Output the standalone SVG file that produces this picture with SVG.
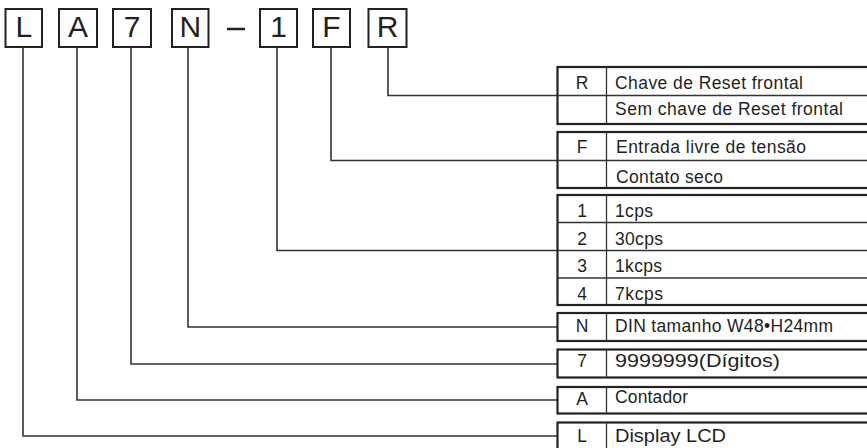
<svg xmlns="http://www.w3.org/2000/svg" width="867" height="448" viewBox="0 0 867 448">
<style>
.box{fill:#fff;stroke:#222;stroke-width:2}
.big{font-family:"Liberation Sans",Arial,sans-serif;font-size:30px;fill:#231f20;text-anchor:middle}
.tb{fill:#fff;stroke:#222;stroke-width:2.2}
.dv{stroke:#333;stroke-width:1.3;fill:none}
.t{font-family:"Liberation Sans",Arial,sans-serif;font-size:17.5px;fill:#231f20}
.c{text-anchor:middle}
.con{fill:none;stroke:#333;stroke-width:1.6}
</style>
<rect width="867" height="448" fill="#fff"/>
<g id="code">
<g id="box-L"><rect class="box" x="5.5" y="9" width="36.5" height="38"/><text class="big" x="23.75" y="37">L</text></g>
<g id="box-A"><rect class="box" x="59" y="9" width="38" height="38"/><text class="big" x="78" y="37">A</text></g>
<g id="box-7"><rect class="box" x="113" y="9" width="38" height="38"/><text class="big" x="132" y="37">7</text></g>
<g id="box-N"><rect class="box" x="172" y="9" width="36.5" height="38"/><text class="big" x="190.25" y="37">N</text></g>
<line x1="227" y1="29" x2="245" y2="29" stroke="#222" stroke-width="2.5"/>
<g id="box-1"><rect class="box" x="260" y="9" width="37" height="38"/><text class="big" x="278.5" y="37">1</text></g>
<g id="box-F"><rect class="box" x="313" y="9" width="37" height="38"/><text class="big" x="331.5" y="37">F</text></g>
<g id="box-R"><rect class="box" x="368.5" y="9" width="38" height="38"/><text class="big" x="387.5" y="37">R</text></g>
</g>
<g id="connectors">
<path class="con" d="M388 47V95.5H557"/>
<path class="con" d="M331 47V160.5H557"/>
<path class="con" d="M277 47V250.5H557"/>
<path class="con" d="M188 47V327H557"/>
<path class="con" d="M131 47V364H557"/>
<path class="con" d="M77 47V400H557"/>
<path class="con" d="M23 47V436H557"/>
</g>
<g id="table-R">
<rect class="tb" x="557.5" y="67" width="330" height="57"/>
<path class="dv" d="M606.5 67V124M557.5 95.5H867"/>
<text class="t c" x="582" y="89">R</text>
<text class="t" x="615" y="89" textLength="188" lengthAdjust="spacing">Chave de Reset frontal</text>
<text class="t" x="615" y="115" textLength="228" lengthAdjust="spacing">Sem chave de Reset frontal</text>
</g>
<g id="table-F">
<rect class="tb" x="557.5" y="132" width="330" height="56"/>
<path class="dv" d="M606.5 132V188M557.5 160.5H867"/>
<text class="t c" x="582" y="153">F</text>
<text class="t" x="616" y="153" textLength="190" lengthAdjust="spacing">Entrada livre de tensão</text>
<text class="t" x="616" y="183" textLength="107" lengthAdjust="spacing">Contato seco</text>
</g>
<g id="table-1">
<rect class="tb" x="557.5" y="195" width="330" height="110"/>
<path class="dv" d="M606.5 195V305M557.5 222.5H867M557.5 250.5H867M557.5 278H867"/>
<text class="t c" x="582" y="216.5">1</text>
<text class="t" x="615" y="216.5" textLength="38" lengthAdjust="spacing">1cps</text>
<text class="t c" x="582" y="244.5">2</text>
<text class="t" x="615" y="244.5" textLength="48" lengthAdjust="spacing">30cps</text>
<text class="t c" x="582" y="272">3</text>
<text class="t" x="615" y="272" textLength="47" lengthAdjust="spacing">1kcps</text>
<text class="t c" x="582" y="299.5">4</text>
<text class="t" x="615" y="299.5" textLength="48" lengthAdjust="spacing">7kcps</text>
</g>
<g id="table-N">
<rect class="tb" x="557.5" y="313" width="330" height="28"/>
<path class="dv" d="M606.5 313V341"/>
<text class="t c" x="582" y="332">N</text>
<text class="t" x="615" y="332" textLength="218" lengthAdjust="spacing">DIN tamanho W48•H24mm</text>
</g>
<g id="table-7">
<rect class="tb" x="557.5" y="349.5" width="330" height="28"/>
<path class="dv" d="M606.5 349.5V377.5"/>
<text class="t c" x="582" y="367">7</text>
<text class="t" x="615" y="367" textLength="165" lengthAdjust="spacingAndGlyphs">9999999(Dígitos)</text>
</g>
<g id="table-A">
<rect class="tb" x="557.5" y="387" width="330" height="26.5"/>
<path class="dv" d="M606.5 387V413.5"/>
<text class="t c" x="582" y="405">A</text>
<text class="t" x="615" y="403" textLength="73" lengthAdjust="spacing">Contador</text>
</g>
<g id="table-L">
<rect class="tb" x="557.5" y="422.5" width="330" height="40"/>
<path class="dv" d="M606.5 422.5V448"/>
<text class="t c" x="582" y="441.5">L</text>
<text class="t" x="615" y="441.5" textLength="111" lengthAdjust="spacingAndGlyphs">Display LCD</text>
</g>
</svg>
